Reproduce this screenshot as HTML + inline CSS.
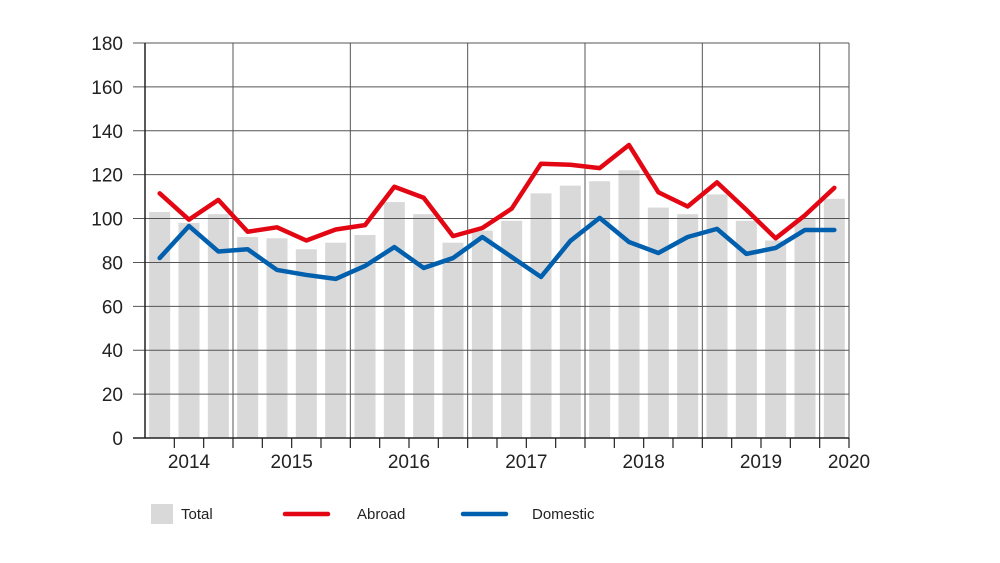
<!DOCTYPE html>
<html><head><meta charset="utf-8"><style>
html,body{margin:0;padding:0;background:#fff;}
svg{display:block;font-family:"Liberation Sans",sans-serif;}
</style></head><body>
<svg id="chart" width="1000" height="563"></svg>
<script>
const categories=["2014Q2","2014Q3","2014Q4","2015Q1","2015Q2","2015Q3","2015Q4","2016Q1","2016Q2","2016Q3","2016Q4","2017Q1","2017Q2","2017Q3","2017Q4","2018Q1","2018Q2","2018Q3","2018Q4","2019Q1","2019Q2","2019Q3","2019Q4","2020Q1"];
const totalValues=[103,98,102,91.6,91,86,89,92.5,107.5,102,89,94.5,99,111.5,115,117,122,105,102,111,99,90,100,109];
const abroadValues=[111.5,99.5,108.5,94,96,90,95,97,114.5,109.5,92,95.7,104.5,125,124.5,123,133.5,112,105.5,116.5,104,91,101.5,114];
const domesticValues=[82,96.6,85,86,76.6,74.3,72.5,78.4,87,77.5,82,91.6,82.5,73.4,89.8,100.3,89.3,84.3,91.6,95.3,83.9,86.6,94.8,94.8];
const yTicks=[0,20,40,60,80,100,120,140,160,180];
const yearLabels=["2014","2015","2016","2017","2018","2019","2020"];
const yearLabelSlots=[1.5,5,9,13,17,21,24];
const gridSlots=[3,7,11,15,19,23,24];

const svg=document.getElementById('chart');
const NS="http://www.w3.org/2000/svg";
const X0=145,X1=849,Y0=438,Y1=43;
const slotW=(X1-X0)/categories.length;
const yS=v=>Y0-(v/180)*(Y0-Y1);
const xS=i=>X0+slotW*(i+0.5);
const xB=i=>X0+slotW*i;
function mk(t,a,p){const e=document.createElementNS(NS,t);for(const k in a)e.setAttribute(k,a[k]);(p||svg).appendChild(e);return e;}

// bars
totalValues.forEach((v,i)=>{
 const r=mk('rect',{x:xS(i)-10.5,y:yS(v),width:21,height:Y0-yS(v),fill:'#d9d9d9'});
 
 
});
// horizontal grid + y labels
yTicks.forEach(t=>{
 const y=yS(t);
 const l=mk('line',{x1:X0-12,x2:X1,y1:y,y2:y,stroke:'#555','stroke-width':1});
 
 
 const tx=mk('text',{x:123,y:y+7,'text-anchor':'end','font-size':19,fill:'#222'});
 tx.textContent=t;
 
 
});
// vertical grid
gridSlots.forEach(s=>{
 const l=mk('line',{x1:xB(s),x2:xB(s),y1:Y1,y2:Y0,stroke:'#555','stroke-width':1});
 
 
});
// axes
const ya=mk('line',{x1:X0,x2:X0,y1:Y1,y2:Y0,stroke:'#222','stroke-width':1.5});


const xa=mk('line',{x1:X0-12,x2:X1,y1:Y0,y2:Y0,stroke:'#222','stroke-width':1.5});


for(let i=1;i<=categories.length;i++){
 const t=mk('line',{x1:xB(i),x2:xB(i),y1:Y0,y2:Y0+10,stroke:'#222','stroke-width':1.2});
 
 
}
yearLabels.forEach((yl,i)=>{
 const t=mk('text',{x:xB(yearLabelSlots[i]),y:468,'text-anchor':'middle','font-size':19,fill:'#222'});
 t.textContent=yl;
 
 
});
// lines
function line(vals,color,name){
 const p=mk('polyline',{points:vals.map((v,i)=>xS(i)+','+yS(v)).join(' '),fill:'none',stroke:color,'stroke-width':4.5,'stroke-linejoin':'round','stroke-linecap':'round'});
 
 
}
line(abroadValues,'#e30613','line-abroad');
line(domesticValues,'#0060ae','line-domestic');
// legend
const lg=mk('g',{});


const r1=mk('rect',{x:151,y:504,width:22,height:20,fill:'#d9d9d9'},lg);


const t1=mk('text',{x:181,y:519,'font-size':15,fill:'#222'},lg);t1.textContent='Total';


const l2=mk('line',{x1:285,x2:328,y1:514,y2:514,stroke:'#e30613','stroke-width':4.5,'stroke-linecap':'round'},lg);


const t2=mk('text',{x:357,y:519,'font-size':15,fill:'#222'},lg);t2.textContent='Abroad';


const l3=mk('line',{x1:463,x2:506,y1:514,y2:514,stroke:'#0060ae','stroke-width':4.5,'stroke-linecap':'round'},lg);


const t3=mk('text',{x:532,y:519,'font-size':15,fill:'#222'},lg);t3.textContent='Domestic';


</script>
</body></html>
